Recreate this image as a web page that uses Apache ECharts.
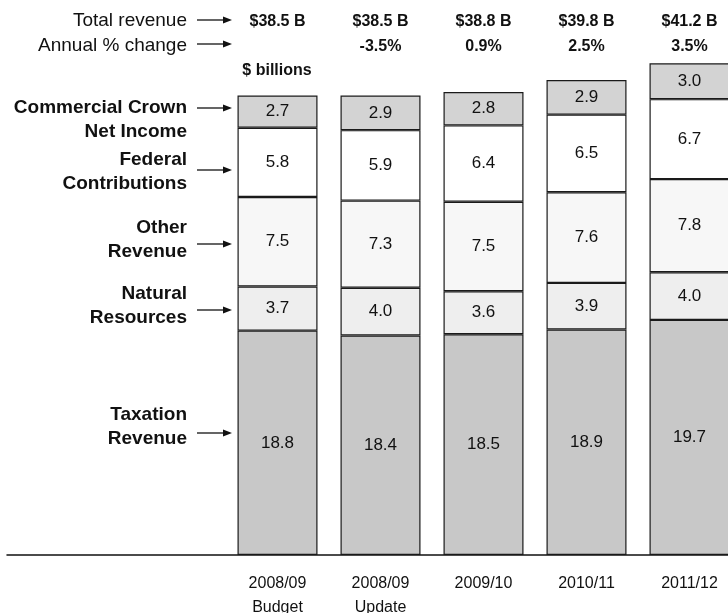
<!DOCTYPE html>
<html>
<head>
<meta charset="utf-8">
<script src="https://cdn.jsdelivr.net/npm/echarts@6/dist/echarts.min.js"></script>
<style>
  html, body { margin: 0; padding: 0; background: #fff; }
  #chart { width: 728px; height: 613px; }
</style>
</head>
<body>
<div id="chart"></div>
<script>
// Revenue components, $ billions, by fiscal year
const categories = ['2008/09\nBudget', '2008/09\nUpdate', '2009/10', '2010/11', '2011/12'];
const taxation   = [18.8, 18.4, 18.5, 18.9, 19.7];
const natural    = [3.7, 4.0, 3.6, 3.9, 4.0];
const other      = [7.5, 7.3, 7.5, 7.6, 7.8];
const federal    = [5.8, 5.9, 6.4, 6.5, 6.7];
const commercial = [2.7, 2.9, 2.8, 2.9, 3.0];
const totals     = ['$38.5 B', '$38.5 B', '$38.8 B', '$39.8 B', '$41.2 B'];
const changes    = ['', '-3.5%', '0.9%', '2.5%', '3.5%'];

const FONT = '"Liberation Sans", Arial, sans-serif';

function segment(name, values, color) {
  return {
    name: name,
    type: 'bar',
    stack: 'revenue',
    xAxisIndex: 0,
    yAxisIndex: 0,
    barWidth: 80,
    data: values,
    itemStyle: { color: color, borderColor: '#1a1a1a', borderWidth: 1.2 },
    label: {
      show: true,
      position: 'inside',
      color: '#111',
      fontFamily: FONT,
      fontSize: 17,
      formatter: p => p.value.toFixed(1)
    },
    emphasis: { disabled: true },
    animation: false
  };
}

// Row captions on the left with arrows pointing at the bars
const leftLabels = [
  { text: 'Total revenue', y: 21, arrowY: 20, bold: false },
  { text: 'Annual % change', y: 46, arrowY: 44, bold: false },
  { text: 'Commercial Crown\nNet Income', y: 120, arrowY: 108, bold: true },
  { text: 'Federal\nContributions', y: 172, arrowY: 170, bold: true },
  { text: 'Other\nRevenue', y: 240, arrowY: 244, bold: true },
  { text: 'Natural\nResources', y: 306, arrowY: 310, bold: true },
  { text: 'Taxation\nRevenue', y: 427, arrowY: 433, bold: true }
];

const graphics = [];
leftLabels.forEach(l => {
  graphics.push({
    type: 'text',
    x: 187, y: l.y,
    style: {
      text: l.text,
      align: 'right', verticalAlign: 'middle',
      textAlign: 'right', textVerticalAlign: 'middle',
      font: (l.bold ? 'bold ' : '') + '19px ' + FONT,
      lineHeight: 24,
      fill: '#111'
    },
    silent: true
  });
  graphics.push({
    type: 'line',
    shape: { x1: 197, y1: l.arrowY, x2: 225, y2: l.arrowY },
    style: { stroke: '#111', lineWidth: 1.3 },
    silent: true
  });
  graphics.push({
    type: 'polygon',
    shape: { points: [[223, l.arrowY - 3.5], [232, l.arrowY], [223, l.arrowY + 3.5]] },
    style: { fill: '#111' },
    silent: true
  });
});
graphics.push({
  type: 'text',
  x: 277, y: 71,
  style: {
    text: '$ billions',
    align: 'center', verticalAlign: 'middle',
    textAlign: 'center', textVerticalAlign: 'middle',
    font: 'bold 16px ' + FONT,
    fill: '#111'
  },
  silent: true
});

const chart = echarts.init(document.getElementById('chart'), null, { renderer: 'canvas' });
chart.setOption({
  backgroundColor: '#fff',
  animation: false,
  grid: [
    { left: 226, right: -13, top: 18, bottom: 58, containLabel: false, outerBoundsMode: 'none' },
    { left: 7, right: 0, top: 18, bottom: 58, containLabel: false, outerBoundsMode: 'none' }
  ],
  xAxis: [
    {
      type: 'category',
      gridIndex: 0,
      data: categories,
      axisLine: { show: false },
      axisTick: { show: false },
      axisLabel: {
        interval: 0,
        margin: 17,
        color: '#111',
        fontFamily: FONT,
        fontSize: 16,
        lineHeight: 24
      }
    },
    {
      type: 'category',
      gridIndex: 0,
      position: 'top',
      offset: -43,
      data: totals,
      axisLine: { show: false },
      axisTick: { show: false },
      axisLabel: {
        interval: 0,
        margin: 2,
        formatter: (v, i) => '{t|' + totals[i] + '}\n{p|' + (changes[i] || '\u00a0') + '}',
        rich: {
          t: { fontFamily: FONT, fontSize: 16, fontWeight: 'bold', color: '#111', lineHeight: 25 },
          p: { fontFamily: FONT, fontSize: 16, fontWeight: 'bold', color: '#111', lineHeight: 25 }
        }
      }
    },
    {
      type: 'value',
      gridIndex: 1,
      min: 0, max: 1,
      axisLine: { show: true, lineStyle: { color: '#111', width: 1.5 } },
      axisTick: { show: false },
      axisLabel: { show: false },
      splitLine: { show: false }
    }
  ],
  yAxis: [
    { type: 'value', gridIndex: 0, min: 0, max: 45, show: false },
    { type: 'value', gridIndex: 1, min: 0, max: 1, show: false }
  ],
  series: [
    segment('Taxation Revenue', taxation, '#c8c8c8'),
    segment('Natural Resources', natural, '#eeeeee'),
    segment('Other Revenue', other, '#f7f7f7'),
    segment('Federal Contributions', federal, '#ffffff'),
    segment('Commercial Crown Net Income', commercial, '#d3d3d3')
  ],
  graphic: graphics
});
</script>
</body>
</html>
